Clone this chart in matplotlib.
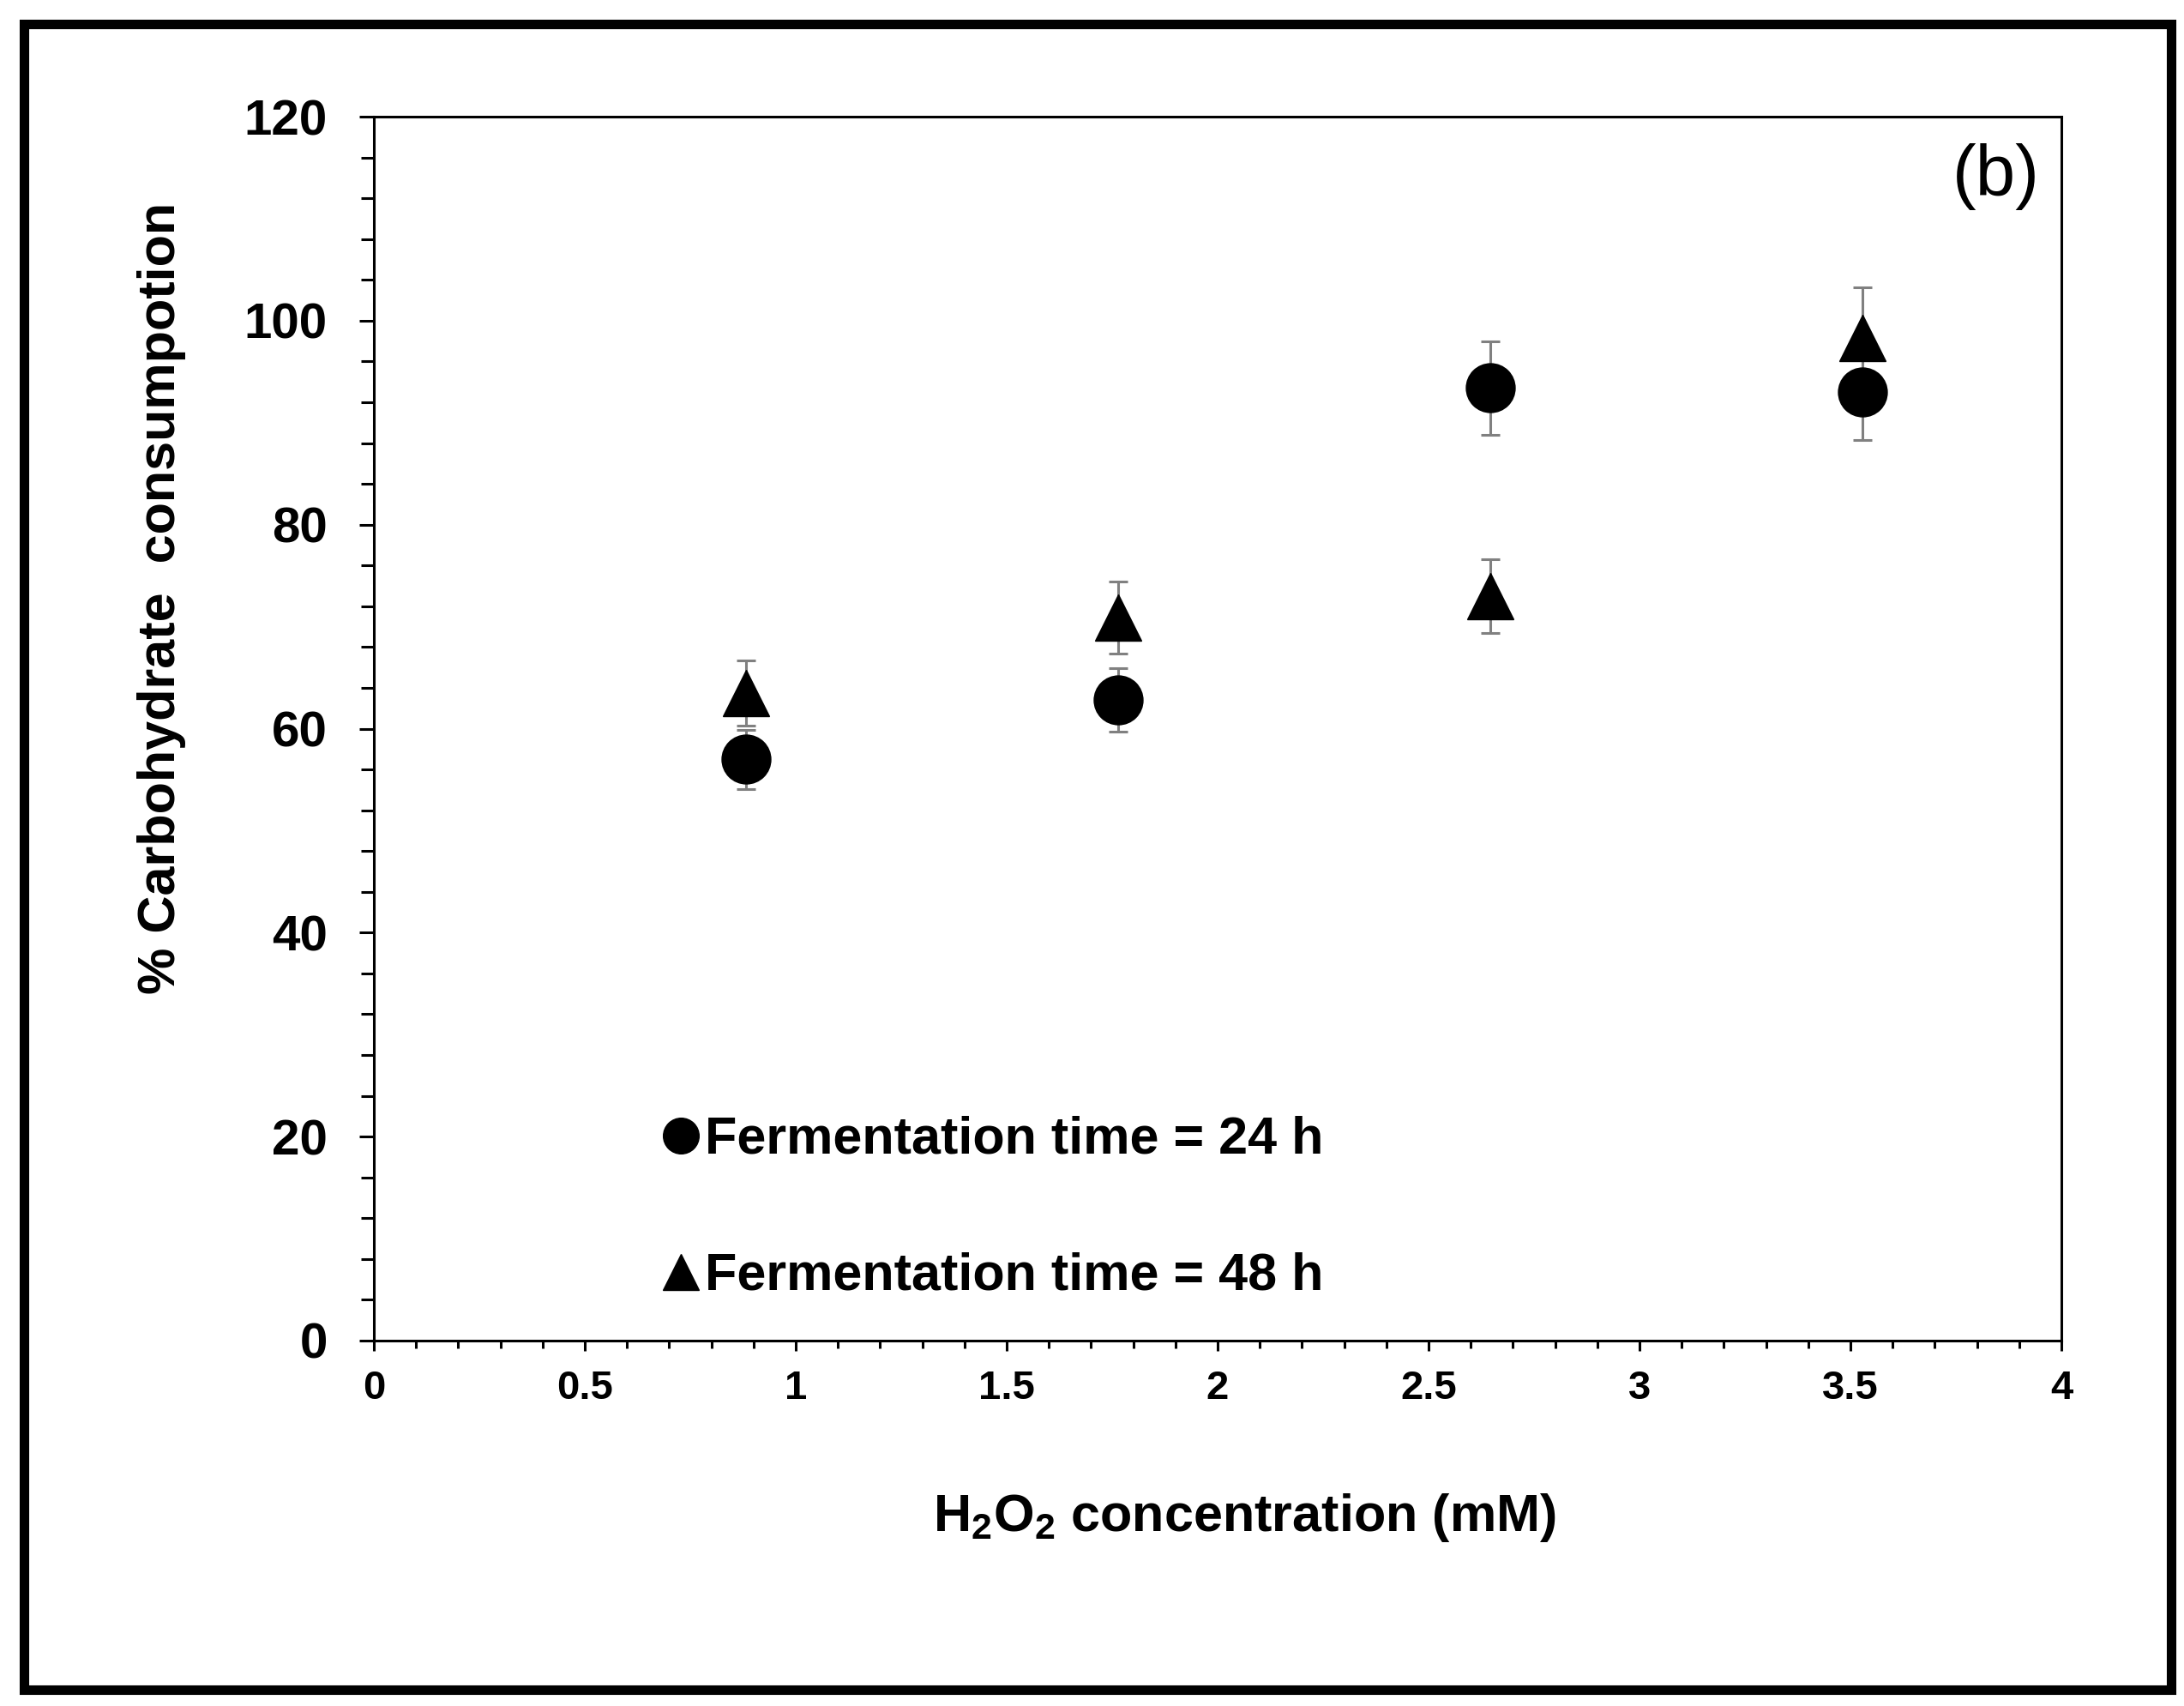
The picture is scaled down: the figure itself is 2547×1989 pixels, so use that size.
import matplotlib
matplotlib.use("Agg")
import matplotlib.pyplot as plt
from matplotlib.lines import Line2D
from matplotlib.patches import Rectangle
from matplotlib.ticker import MultipleLocator

plt.rcParams['font.family'] = ['Liberation Sans', 'DejaVu Sans']
plt.rcParams['mathtext.fontset'] = 'custom'
plt.rcParams['mathtext.rm'] = 'Liberation Sans:bold'
plt.rcParams['mathtext.default'] = 'rm'

# ---- data ----
h2o2_mM = [0.882, 1.764, 2.646, 3.528]
cons_24h = [57.0, 62.8, 93.4, 93.0]
err_24h = [2.9, 3.1, 4.6, 4.7]
cons_48h = [63.5, 70.9, 73.0, 98.3]
err_48h = [3.2, 3.5, 3.6, 5.0]
series_labels = ["Fermentation time = 24 h", "Fermentation time = 48 h"]
x_ticks = [0, 0.5, 1, 1.5, 2, 2.5, 3, 3.5, 4]
x_tick_labels = ["0", "0.5", "1", "1.5", "2", "2.5", "3", "3.5", "4"]
y_ticks = [0, 20, 40, 60, 80, 100, 120]
x_label = "H$_2$O$_2$ concentration (mM)"
y_label = "% Carbohydrate  consumpotion"
panel_label = "(b)"

W, H = 2547, 1989
fig = plt.figure(figsize=(W / 100, H / 100), dpi=100)
ax = fig.add_axes([436 / W, 1 - 1563 / H, (2404 - 436) / W, (1563 - 136) / H])

err_color = '#808080'
ax.errorbar(h2o2_mM, cons_24h, yerr=err_24h, fmt='none', ecolor=err_color,
            elinewidth=2.2, capsize=8, capthick=2.2, zorder=2)
ax.errorbar(h2o2_mM, cons_48h, yerr=err_48h, fmt='none', ecolor=err_color,
            elinewidth=2.2, capsize=8, capthick=2.2, zorder=2)
ax.plot(h2o2_mM, cons_24h, linestyle='none', marker='o', markersize=41,
        color='black', zorder=3)
ax.plot(h2o2_mM, cons_48h, linestyle='none', marker='^', markersize=39,
        color='black', zorder=4)

ax.set_xlim(0, 4)
ax.set_ylim(0, 120)
ax.set_xticks(x_ticks)
ax.set_xticklabels(x_tick_labels)
ax.set_yticks(y_ticks)
ax.xaxis.set_minor_locator(MultipleLocator(0.1))
ax.yaxis.set_minor_locator(MultipleLocator(4))

for s in ax.spines.values():
    s.set_linewidth(2.2)
    s.set_color('black')

ax.tick_params(axis='y', which='major', direction='out', length=12, width=2.2,
               pad=27, labelsize=42)
ax.tick_params(axis='y', which='minor', direction='out', length=11, width=2.2)
ax.tick_params(axis='x', which='major', direction='out', length=8.5, width=2.2,
               pad=16, labelsize=34)
ax.tick_params(axis='x', which='minor', direction='out', length=6.5, width=2.2)
for lab in ax.get_xticklabels() + ax.get_yticklabels():
    lab.set_fontweight('bold')

# axis labels
fig.text(1451 / W, 1 - 1785 / H, x_label, ha='center', va='baseline',
         fontsize=44, fontweight='bold')
fig.text(189 / W, 1 - 697 / H, y_label, ha='center', va='center',
         rotation=90, fontsize=44, fontweight='bold')

# panel label
fig.text(2379 / W, 1 - 228 / H, panel_label, ha='right', va='baseline',
         fontsize=60, fontweight='normal')

# legend
handles = [Line2D([], [], linestyle='none', marker='o', markersize=30, color='black'),
           Line2D([], [], linestyle='none', marker='^', markersize=30, color='black')]
leg = ax.legend(handles, series_labels, loc='lower left',
                bbox_to_anchor=(773 / W, 1 - 1517 / H), bbox_transform=fig.transFigure,
                frameon=False, borderpad=0, borderaxespad=0, handlelength=0.7,
                handletextpad=0.1, labelspacing=1.67,
                prop={'size': 44, 'weight': 'bold'})

# outer frame
fig.patches.append(Rectangle((27.5 / W, 19 / H), (2531.5 - 27.5) / W, (1970 - 28) / H,
                             transform=fig.transFigure, fill=False,
                             edgecolor='black', linewidth=8))

fig.savefig("out.png", dpi=100, facecolor='white')
